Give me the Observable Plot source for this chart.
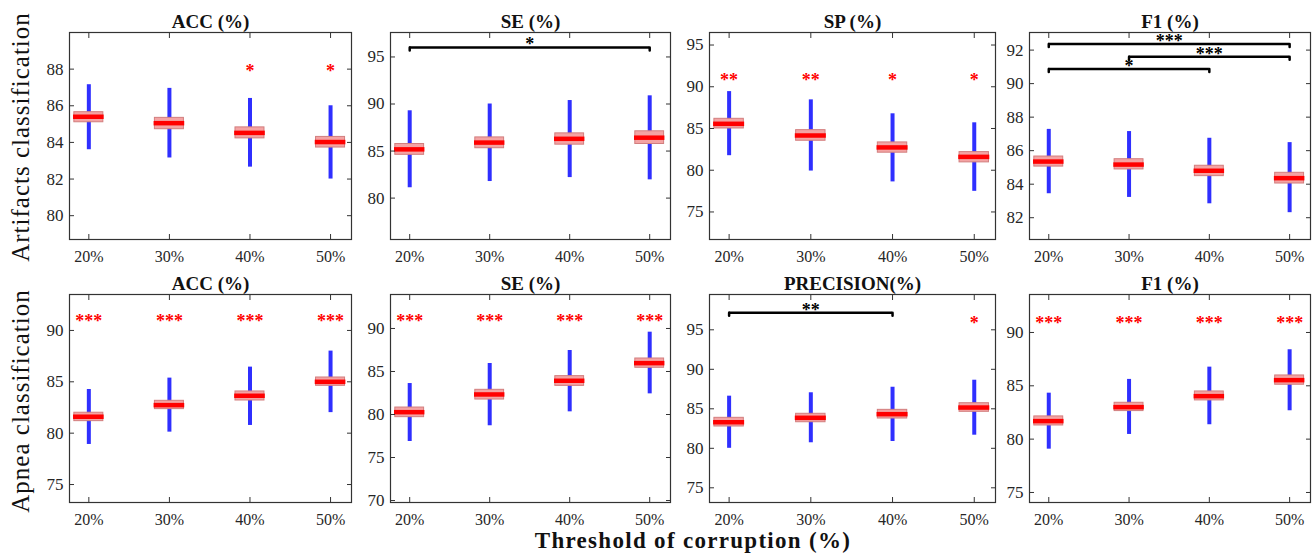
<!DOCTYPE html>
<html>
<head>
<meta charset="utf-8">
<script src="https://cdn.jsdelivr.net/npm/d3@7"></script>
<script src="https://cdn.jsdelivr.net/npm/@observablehq/plot@0.6"></script>
<style>
  html, body { margin: 0; padding: 0; background: #fff; }
  #chart { position: relative; width: 1314px; height: 558px; overflow: hidden; font-family: "Liberation Serif", serif; color: #111; }
  #chart svg, #chart svg text { font-family: "Liberation Serif", serif !important; }
  .panel { position: absolute; }
  .rowlabel { position: absolute; width: 300px; height: 26px; line-height: 26px; text-align: center; font-size: 25px; letter-spacing: 1px; transform: rotate(-90deg); transform-origin: 150px 13px; white-space: nowrap; }
  .xlabel { position: absolute; width: 500px; text-align: center; font-size: 23px; font-weight: bold; letter-spacing: 1.3px; line-height: 22px; white-space: nowrap; }
</style>
</head>
<body>
<div id="chart"></div>
<script>
// ---------- data ----------
const categories = ["20%", "30%", "40%", "50%"];
const rowTitles = ["Artifacts classification", "Apnea classification"];
const xTitle = "Threshold of corruption (%)";
const panelTitles = ["ACC (%)", "SE (%)", "SP (%)", "F1 (%)", "ACC (%)", "SE (%)", "PRECISION(%)", "F1 (%)"];

// Artifacts – ACC
const artAccLo  = [83.6, 83.15, 82.65, 82.0];
const artAccQ1  = [85.1, 84.72, 84.22, 83.72];
const artAccMed = [85.4, 85.05, 84.52, 84.02];
const artAccQ3  = [85.65, 85.34, 84.82, 84.3];
const artAccHi  = [87.15, 86.95, 86.4, 86.0];
const artAccTicks = [80, 82, 84, 86, 88];
const artAccStars = [{i: 3, y: 88.1, label: "*"}, {i: 4, y: 88.1, label: "*"}];

// Artifacts – SE
const artSeLo  = [81.1, 81.76, 82.18, 81.94];
const artSeQ1  = [84.6, 85.3, 85.68, 85.75];
const artSeMed = [85.18, 85.9, 86.3, 86.42];
const artSeQ3  = [85.75, 86.45, 86.88, 87.1];
const artSeHi  = [89.28, 90.0, 90.37, 90.87];
const artSeTicks = [80, 85, 90, 95];
const artSeBrackets = [{from: 1, to: 4, y: 96.0, label: "*"}];

// Artifacts – SP
const artSpLo  = [81.74, 79.9, 78.6, 77.47];
const artSpQ1  = [85.0, 83.53, 82.1, 80.94];
const artSpMed = [85.56, 84.16, 82.73, 81.6];
const artSpQ3  = [86.16, 84.8, 83.33, 82.17];
const artSpHi  = [89.42, 88.43, 86.76, 85.68];
const artSpTicks = [75, 80, 85, 90, 95];
const artSpStars = [{i: 1, y: 91.3, label: "**"}, {i: 2, y: 91.3, label: "**"}, {i: 3, y: 91.3, label: "*"}, {i: 4, y: 91.3, label: "*"}];

// Artifacts – F1
const artF1Lo  = [83.43, 83.21, 82.83, 82.3];
const artF1Q1  = [85.05, 84.88, 84.48, 84.04];
const artF1Med = [85.35, 85.17, 84.8, 84.36];
const artF1Q3  = [85.65, 85.49, 85.1, 84.68];
const artF1Hi  = [87.27, 87.14, 86.74, 86.48];
const artF1Ticks = [82, 84, 86, 88, 90, 92];
const artF1Brackets = [{from: 1, to: 4, y: 92.36, label: "***"}, {from: 2, to: 4, y: 91.6, label: "***"}, {from: 1, to: 3, y: 90.87, label: "*"}];

// Apnea – ACC
const apnAccLo  = [78.9, 80.1, 80.75, 82.0];
const apnAccQ1  = [81.17, 82.34, 83.18, 84.61];
const apnAccMed = [81.6, 82.73, 83.64, 85.0];
const apnAccQ3  = [81.99, 83.15, 84.06, 85.42];
const apnAccHi  = [84.25, 85.36, 86.43, 87.99];
const apnAccTicks = [75, 80, 85, 90];
const apnAccStars = [{i: 1, y: 91.3, label: "***"}, {i: 2, y: 91.3, label: "***"}, {i: 3, y: 91.3, label: "***"}, {i: 4, y: 91.3, label: "***"}];

// Apnea – SE
const apnSeLo  = [76.86, 78.69, 80.31, 82.4];
const apnSeQ1  = [79.69, 81.74, 83.33, 85.43];
const apnSeMed = [80.27, 82.33, 83.92, 85.97];
const apnSeQ3  = [80.81, 82.87, 84.46, 86.51];
const apnSeHi  = [83.6, 85.93, 87.44, 89.57];
const apnSeTicks = [70, 75, 80, 85, 90];
const apnSeStars = [{i: 1, y: 91.3, label: "***"}, {i: 2, y: 91.3, label: "***"}, {i: 3, y: 91.3, label: "***"}, {i: 4, y: 91.3, label: "***"}];

// Apnea – PRECISION
const apnPrLo  = [80.0, 80.7, 80.86, 81.66];
const apnPrQ1  = [82.76, 83.3, 83.77, 84.62];
const apnPrMed = [83.3, 83.86, 84.32, 85.16];
const apnPrQ3  = [83.86, 84.37, 84.87, 85.71];
const apnPrHi  = [86.6, 87.03, 87.73, 88.62];
const apnPrTicks = [75, 80, 85, 90, 95];
const apnPrStars = [{i: 4, y: 96.3, label: "*"}];
const apnPrBrackets = [{from: 1, to: 3, y: 97.15, label: "**"}];

// Apnea – F1
const apnF1Lo  = [79.06, 80.44, 81.35, 82.66];
const apnF1Q1  = [81.28, 82.63, 83.63, 85.1];
const apnF1Med = [81.69, 83.0, 84.03, 85.53];
const apnF1Q3  = [82.13, 83.41, 84.47, 85.97];
const apnF1Hi  = [84.31, 85.6, 86.75, 88.38];
const apnF1Ticks = [75, 80, 85, 90];
const apnF1Stars = [{i: 1, y: 91.25, label: "***"}, {i: 2, y: 91.25, label: "***"}, {i: 3, y: 91.25, label: "***"}, {i: 4, y: 91.25, label: "***"}];

// ---------- layout / style ----------
const frameX = [[69, 351], [390, 670], [709, 995], [1029, 1310]];
const frameY = [[32, 239], [294, 502]];
const yDomains = [
  [78.7, 90], [75.6, 97.6], [71.7, 96.5], [80.7, 93.05],
  [73.25, 93.5], [69.77, 93.95], [73.14, 99.47], [74.06, 93.56]
];
const xDomain = [0.76, 4.26];
const boxHalf = 0.18, medHalf = 0.19;
const whiskerColor = "#2f2fff", boxFill = "#f4a3a3", boxStroke = "#d27e7e", medColor = "#ff0000";
const axisColor = "#333333";
const serif = "Liberation Serif, serif";

const panels = [
  {lo: artAccLo, q1: artAccQ1, med: artAccMed, q3: artAccQ3, hi: artAccHi, ticks: artAccTicks, stars: artAccStars},
  {lo: artSeLo, q1: artSeQ1, med: artSeMed, q3: artSeQ3, hi: artSeHi, ticks: artSeTicks, brackets: artSeBrackets},
  {lo: artSpLo, q1: artSpQ1, med: artSpMed, q3: artSpQ3, hi: artSpHi, ticks: artSpTicks, stars: artSpStars},
  {lo: artF1Lo, q1: artF1Q1, med: artF1Med, q3: artF1Q3, hi: artF1Hi, ticks: artF1Ticks, brackets: artF1Brackets},
  {lo: apnAccLo, q1: apnAccQ1, med: apnAccMed, q3: apnAccQ3, hi: apnAccHi, ticks: apnAccTicks, stars: apnAccStars},
  {lo: apnSeLo, q1: apnSeQ1, med: apnSeMed, q3: apnSeQ3, hi: apnSeHi, ticks: apnSeTicks, stars: apnSeStars},
  {lo: apnPrLo, q1: apnPrQ1, med: apnPrMed, q3: apnPrQ3, hi: apnPrHi, ticks: apnPrTicks, stars: apnPrStars, brackets: apnPrBrackets},
  {lo: apnF1Lo, q1: apnF1Q1, med: apnF1Med, q3: apnF1Q3, hi: apnF1Hi, ticks: apnF1Ticks, stars: apnF1Stars}
];

const chart = document.getElementById("chart");
const mL = 40, mR = 4, mT = 32, mB = 28;

panels.forEach((p, idx) => {
  const row = Math.floor(idx / 4), col = idx % 4;
  const [fx0, fx1] = frameX[col];
  const [fy0, fy1] = frameY[row];
  const fw = fx1 - fx0, fh = fy1 - fy0;
  const rows = categories.map((c, k) => ({i: k + 1, lo: p.lo[k], q1: p.q1[k], med: p.med[k], q3: p.q3[k], hi: p.hi[k]}));
  const stars = p.stars || [];
  const brackets = p.brackets || [];
  const ends = brackets.flatMap(b => [{x: b.from, y: b.y}, {x: b.to, y: b.y}]);
  const xt = [1, 2, 3, 4];

  const svg = Plot.plot({
    width: mL + fw + mR,
    height: mT + fh + mB,
    marginLeft: mL, marginRight: mR, marginTop: mT, marginBottom: mB,
    x: {type: "linear", domain: xDomain, label: null},
    y: {domain: yDomains[idx], label: null},
    style: {fontFamily: serif, fontSize: "16px", background: "transparent", overflow: "visible", color: "#262626"},
    marks: [
      Plot.ruleX(rows, {x: "i", y1: "lo", y2: "hi", stroke: whiskerColor, strokeWidth: 4}),
      Plot.rect(rows, {x1: d => d.i - boxHalf, x2: d => d.i + boxHalf, y1: "q1", y2: "q3", fill: boxFill, stroke: boxStroke, strokeWidth: 1}),
      Plot.ruleY(rows, {y: "med", x1: d => d.i - medHalf, x2: d => d.i + medHalf, stroke: medColor, strokeWidth: 4.5}),
      Plot.text(stars, {x: "i", y: "y", text: "label", fill: medColor, fontSize: 18, fontWeight: "bold", fontFamily: serif, lineAnchor: "middle", dy: 4}),
      Plot.ruleY(brackets, {y: "y", x1: "from", x2: "to", stroke: "#000", strokeWidth: 2.5}),
      Plot.vector(ends, {x: "x", y: "y", length: 3, rotate: 180, anchor: "start", shape: "spike", r: 0, stroke: "#000", strokeWidth: 2.5}),
      Plot.text(brackets, {x: d => (d.from + d.to) / 2, y: "y", text: "label", fill: "#000", fontSize: 18, fontWeight: "bold", fontFamily: serif, lineAnchor: "middle", dy: -3}),
      Plot.frame({stroke: axisColor, strokeWidth: 1.2}),
      Plot.axisY({ticks: p.ticks, tickSize: 0, tickPadding: 6, fontSize: 17, fontFamily: serif}),
      Plot.axisY({ticks: p.ticks, tickSize: -5, tickFormat: () => "", stroke: axisColor}),
      Plot.axisY({ticks: p.ticks, anchor: "right", tickSize: -5, tickFormat: () => "", stroke: axisColor}),
      Plot.axisX({ticks: xt, tickSize: 0, tickPadding: 11, tickFormat: i => categories[i - 1], fontSize: 16, fontFamily: serif}),
      Plot.axisX({ticks: xt, tickSize: -5, tickFormat: () => "", stroke: axisColor}),
      Plot.axisX({ticks: xt, anchor: "top", tickSize: -5, tickFormat: () => "", stroke: axisColor}),
      Plot.text([panelTitles[idx]], {text: d => d, frameAnchor: "top", lineAnchor: "middle", dy: -11, fontSize: 19, fontWeight: "bold", fontFamily: serif, fill: "#111", style: "letter-spacing:1.2px"})
    ]
  });
  svg.classList.add("panel");
  svg.style.left = (fx0 - mL) + "px";
  svg.style.top = (fy0 - mT) + "px";
  chart.appendChild(svg);
});

// row labels
const rowCenters = [137, 401];
rowTitles.forEach((t, r) => {
  const d = document.createElement("div");
  d.className = "rowlabel";
  d.textContent = t;
  d.style.left = (20.5 - 150) + "px";
  d.style.top = (rowCenters[r] - 13) + "px";
  chart.appendChild(d);
});

// x label
const xl = document.createElement("div");
xl.className = "xlabel";
xl.textContent = xTitle;
xl.style.left = (693 - 250) + "px";
xl.style.top = "530px";
chart.appendChild(xl);
</script>
</body>
</html>
